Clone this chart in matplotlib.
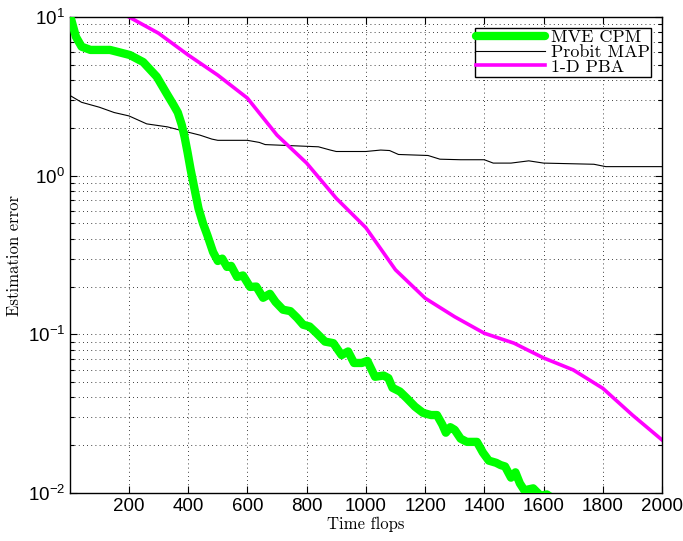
import matplotlib
matplotlib.use('Agg')
import matplotlib.pyplot as plt
from matplotlib.ticker import LogLocator, FixedLocator, NullFormatter

# MVE CPM (thick green)
cpm_x = [1, 6, 21, 40, 70, 136, 203, 248, 294, 327, 350, 365, 378, 388, 398, 408, 420, 435,
         450, 465, 484, 500, 515, 531, 545, 565, 585, 609, 630, 653, 676, 695, 720, 745, 768,
         788, 810, 833, 862, 890, 918, 940, 960, 986, 1005, 1031, 1060, 1076, 1090, 1115, 1138,
         1166, 1193, 1220, 1240, 1258, 1270, 1285, 1300, 1320, 1341, 1375, 1395, 1415, 1440,
         1455, 1470, 1490, 1505, 1520, 1535, 1565, 1590, 1611, 1640]
cpm_y = [10.0, 9.5, 7.5, 6.5, 6.2, 6.2, 5.76, 5.2, 4.2, 3.3, 2.8, 2.5, 2.1, 1.75, 1.4,
         1.1, 0.85, 0.62, 0.50, 0.42, 0.33, 0.29, 0.30, 0.266, 0.27, 0.23, 0.235, 0.199, 0.20,
         0.17, 0.18, 0.16, 0.143, 0.14, 0.127, 0.115, 0.112, 0.102, 0.090, 0.088, 0.074,
         0.078, 0.066, 0.066, 0.068, 0.054, 0.055, 0.053, 0.046, 0.0436, 0.0396, 0.035,
         0.032, 0.031, 0.031, 0.027, 0.024, 0.026, 0.025, 0.022, 0.021, 0.021, 0.018, 0.016,
         0.0155, 0.015, 0.0147, 0.0125, 0.0135, 0.0115, 0.0104, 0.0107, 0.0096, 0.0098, 0.009]

# Probit MAP (thin black)
map_x = [1, 40, 100, 150, 200, 260, 330, 380, 440, 480, 500, 600, 640, 660, 840, 880, 900,
         1000, 1050, 1080, 1110, 1210, 1250, 1320, 1400, 1430, 1490, 1550, 1600, 1770, 1810, 2000]
map_y = [3.2, 2.9, 2.7, 2.5, 2.38, 2.12, 2.03, 1.92, 1.80, 1.70, 1.67, 1.67, 1.62, 1.57, 1.52,
         1.45, 1.42, 1.42, 1.45, 1.44, 1.36, 1.34, 1.27, 1.26, 1.26, 1.20, 1.20, 1.24, 1.20,
         1.18, 1.14, 1.14]

# 1-D PBA (magenta)
pba_x = [200, 300, 400, 500, 600, 700, 800, 900, 1000, 1100, 1200, 1300, 1400, 1500, 1600,
         1700, 1800, 1900, 2000]
pba_y = [10.0, 7.9, 5.76, 4.3, 3.08, 1.80, 1.20, 0.72, 0.47, 0.255, 0.169, 0.129, 0.1016,
         0.088, 0.071, 0.0597, 0.0457, 0.031, 0.0216]

x_ticks = [200, 400, 600, 800, 1000, 1200, 1400, 1600, 1800, 2000]

plt.rcParams['mathtext.fontset'] = 'custom'
plt.rcParams['mathtext.rm'] = 'Liberation Sans'
plt.rcParams['mathtext.it'] = 'Liberation Sans:italic'
plt.rcParams['font.family'] = ['Liberation Sans', 'DejaVu Sans']

fig = plt.figure(figsize=(6.83, 5.41), dpi=100)
ax = fig.add_axes([0.1025, 0.0887, 0.8668, 0.8799])

ax.plot(cpm_x, cpm_y, color='#00ff00', lw=6.0, solid_joinstyle='round',
        solid_capstyle='round', label='MVE CPM', zorder=3)
ax.plot(map_x, map_y, color='black', lw=0.8, label='Probit MAP', zorder=2)
ax.plot(pba_x, pba_y, color='#ff00ff', lw=2.6, label='1-D PBA', zorder=2)

ax.set_yscale('log')
ax.set_xlim(1, 2000)
ax.set_ylim(0.01, 10)
ax.xaxis.set_major_locator(FixedLocator(x_ticks))
ax.yaxis.set_major_locator(LogLocator(base=10, numticks=10))
ax.yaxis.set_minor_locator(LogLocator(base=10, subs=range(2, 10), numticks=10))
ax.yaxis.set_minor_formatter(NullFormatter())

ax.grid(True, which='major', linestyle=(0, (1, 4)), color='black', lw=0.6)
ax.grid(True, which='minor', axis='y', linestyle=(0, (1, 4)), color='black', lw=0.6)

ax.tick_params(which='both', direction='in', top=True, right=True, labelsize=13.5, width=0.8)
ax.tick_params(which='major', length=5)
ax.tick_params(which='minor', length=3)
for s in ax.spines.values():
    s.set_linewidth(1.0)

ax.set_xlabel('Time flops', family='cmr10', fontsize=12, labelpad=1)
ax.set_ylabel('Estimation error', family='cmr10', fontsize=12, labelpad=4)

leg = ax.legend(loc='upper right', prop={'family': 'cmr10', 'size': 13},
                fancybox=False, framealpha=1, edgecolor='black', borderpad=0.1,
                labelspacing=-0.05, handlelength=3.8, handletextpad=0.3,
                borderaxespad=0.6)
leg.get_frame().set_linewidth(1.0)

fig.savefig('out.png', dpi=100)
